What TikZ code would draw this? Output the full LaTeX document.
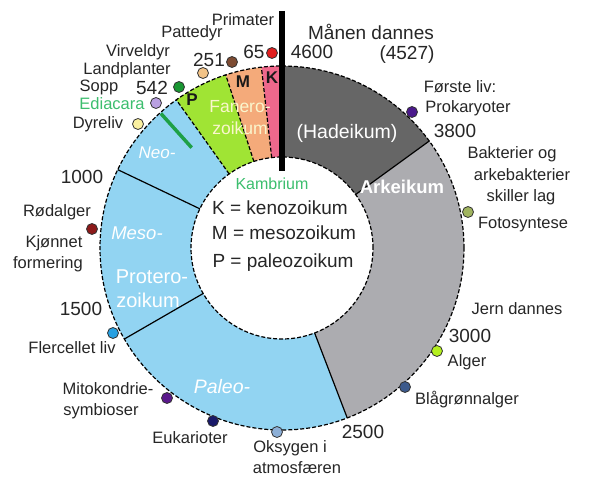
\documentclass[tikz,border=0pt]{standalone}
\usepackage{fontspec}
\setmainfont{Liberation Sans}
\definecolor{hade}{RGB}{102,102,102}
\definecolor{arke}{RGB}{172,172,176}
\definecolor{prot}{RGB}{146,212,242}
\definecolor{pal}{RGB}{160,228,52}
\definecolor{mes}{RGB}{244,170,122}
\definecolor{ken}{RGB}{238,104,140}
\definecolor{edgreen}{RGB}{30,160,70}
\definecolor{kamb}{RGB}{60,190,110}
\definecolor{fanero}{RGB}{250,246,205}
\definecolor{cRed}{RGB}{225,30,30}
\definecolor{cBrown}{RGB}{125,75,50}
\definecolor{cPeach}{RGB}{242,195,135}
\definecolor{cDgreen}{RGB}{25,150,50}
\definecolor{cLav}{RGB}{185,160,225}
\definecolor{cPyel}{RGB}{250,240,160}
\definecolor{cPurp}{RGB}{75,25,140}
\definecolor{cOlive}{RGB}{160,180,95}
\definecolor{cLime}{RGB}{180,240,30}
\definecolor{cSteel}{RGB}{60,90,140}
\definecolor{cLsteel}{RGB}{140,175,215}
\definecolor{cNavy}{RGB}{25,25,105}
\definecolor{cMito}{RGB}{90,25,140}
\definecolor{cBlue}{RGB}{40,160,225}
\definecolor{cDred}{RGB}{140,25,25}
\newcommand{\Ro}{182pt}
\newcommand{\Ri}{91pt}
\newcommand{\ringsec}[3]{%
  \fill[#1] ({90-#2}:\Ro) arc[start angle={90-#2}, end angle={90-#3}, radius=\Ro]
    -- ({90-#3}:\Ri) arc[start angle={90-#3}, end angle={90-#2}, radius=\Ri] -- cycle;}
\begin{document}
\begin{tikzpicture}[x=1pt,y=1pt,
  lab/.style={font=\fontsize{16.5}{18}\selectfont, text=black!85, inner sep=0pt},
  num/.style={font=\fontsize{19}{21}\selectfont, text=black!85, inner sep=0pt},
  ringtxt/.style={font=\fontsize{19.5}{21}\selectfont, text=white, inner sep=0pt},
  legendtxt/.style={font=\fontsize{19}{21}\selectfont, text=black!85, inner sep=0pt},
  erabox/.style={font=\fontsize{17}{19}\selectfont\bfseries, text=black!90, inner sep=0pt},
  dot/.style={circle, draw=black!80, line width=0.8pt, minimum size=11pt, inner sep=0pt},
  edge/.style={black, line width=1.2pt},
  dashedge/.style={black, line width=1.2pt, dash pattern=on 4pt off 2pt}]
\useasboundingbox (0,0) rectangle (600,482);
\fill[white] (0,0) rectangle (600,482);
\begin{scope}[shift={(282,234)}]
  \ringsec{hade}{0}{54}
  \ringsec{arke}{54}{159}
  \ringsec{prot}{159}{324.5}
  \ringsec{pal}{324.5}{342}
  \ringsec{mes}{342}{353.5}
  \ringsec{ken}{353.5}{360}
  \draw[line width=3.5pt, edgreen] (-228:181pt) -- (-228:135pt);
  \draw[edge] (36:\Ri) -- (36:\Ro);
  \draw[edge] (-69:\Ri) -- (-69:\Ro);
  \draw[edge] (-150:\Ri) -- (-150:\Ro);
  \draw[edge] (-205.5:\Ri) -- (-205.5:\Ro);
  \draw[dashedge] (-234.5:\Ri) -- (-234.5:\Ro);
  \draw[dashedge] (-252:\Ri) -- (-252:\Ro);
  \draw[dashedge] (-263.5:\Ri) -- (-263.5:\Ro);
  \draw[dashedge] (0,0) circle[radius=\Ro];
  \draw[dashedge] (0,0) circle[radius=\Ri];
\end{scope}
\coordinate (lineTop) at (282,471);
\coordinate (lineBot) at (282,311);
\draw[line width=6pt, black] (lineTop) -- (lineBot);
% ring texts
\node[ringtxt] (tHade) at (347,349) {(Hadeikum)};
\node[ringtxt, font=\fontsize{18.5}{20}\selectfont\bfseries] (tArke) at (402,295) {Arkeikum};
\node[ringtxt, font=\fontsize{17}{19}\selectfont\itshape] (tNeo) at (157,329) {Neo-};
\node[ringtxt, font=\fontsize{18.5}{20}\selectfont\itshape] (tMeso) at (137,249) {Meso-};
\node[ringtxt, font=\fontsize{20}{22}\selectfont] (tProt1) at (152,205) {Protero-};
\node[ringtxt, font=\fontsize{20}{22}\selectfont] (tProt2) at (148,182) {zoikum};
\node[ringtxt, font=\fontsize{19.5}{21}\selectfont\itshape] (tPaleo) at (222,95) {Paleo-};
\node[ringtxt, text=fanero, font=\fontsize{17.5}{19}\selectfont] (tFan1) at (240,375) {Fanero-};
\node[ringtxt, text=fanero, font=\fontsize{17.5}{19}\selectfont] (tFan2) at (240,354) {zoikum};
\node[erabox] (tP) at (192,382) {P};
\node[erabox] (tM) at (243,400) {M};
\node[erabox] (tK) at (272,404) {K};
% legend
\node[lab, text=kamb, font=\fontsize{16}{18}\selectfont] (kambrium) at (272,298) {Kambrium};
\node[legendtxt] (legK) at (280,274) {K = kenozoikum};
\node[legendtxt] (legM) at (284,249) {M = mesozoikum};
\node[legendtxt] (legP) at (283,219) {P = paleozoikum};
% dots
\node[dot, fill=cRed] (dPrim) at (272,429) {};
\node[dot, fill=cBrown] (dPatt) at (232,420) {};
\node[dot, fill=cPeach] (dVirv) at (203,409) {};
\node[dot, fill=cDgreen] (dLand) at (179,395) {};
\node[dot, fill=cLav] (dEdia) at (156,379) {};
\node[dot, fill=cPyel] (dDyre) at (138,358) {};
\node[dot, fill=cPurp] (dForste) at (412,370) {};
\node[dot, fill=cOlive] (dFoto) at (468,270) {};
\node[dot, fill=cLime] (dAlger) at (437,131) {};
\node[dot, fill=cSteel] (dBlag) at (405,95) {};
\node[dot, fill=cLsteel] (dOks) at (277,50) {};
\node[dot, fill=cNavy] (dEuk) at (213,61) {};
\node[dot, fill=cMito] (dMito) at (167,84) {};
\node[dot, fill=cBlue] (dFler) at (113,149) {};
\node[dot, fill=cDred] (dRod) at (92,253) {};
% labels
\node[lab] (lPrim) at (243,462) {Primater};
\node[lab] (lPatt) at (192,449) {Pattedyr};
\node[num] (n251) at (209,422) {251};
\node[num] (n65) at (254,430) {65};
\node[num] (n4600) at (312,430) {4600};
\node[num] (lManen) at (371,450) {Månen dannes};
\node[num] (n4527) at (407,427) {(4527)};
\node[lab] (lVirv) at (138,430) {Virveldyr};
\node[lab] (lLand) at (127,412) {Landplanter};
\node[lab] (lSopp) at (99,395) {Sopp};
\node[num] (n542) at (152,394) {542};
\node[lab, text=kamb] (lEdia) at (112,378) {Ediacara};
\node[lab] (lDyre) at (98,358) {Dyreliv};
\node[num] (n1000) at (82,305) {1000};
\node[lab] (lForste) at (460,395) {Første liv:};
\node[lab] (lProk) at (468,374) {Prokaryoter};
\node[num] (n3800) at (455,351) {3800};
\node[lab] (lBakt1) at (512,328) {Bakterier og};
\node[lab] (lBakt2) at (522,307) {arkebakterier};
\node[lab] (lBakt3) at (521,285) {skiller lag};
\node[lab] (lFoto) at (523,257) {Fotosyntese};
\node[lab] (lJern) at (517,173) {Jern dannes};
\node[num] (n3000) at (470,146) {3000};
\node[lab] (lAlger) at (467,120) {Alger};
\node[lab] (lBlag) at (467,82) {Blågrønnalger};
\node[num] (n2500) at (363,50) {2500};
\node[lab] (lOks1) at (290,34) {Oksygen i};
\node[lab] (lOks2) at (297,14) {atmosfæren};
\node[lab] (lRod) at (57,270) {Rødalger};
\node[lab] (lKjon1) at (54,239) {Kjønnet};
\node[lab] (lKjon2) at (48,218) {formering};
\node[num] (n1500) at (81,173) {1500};
\node[lab] (lFler) at (72,134) {Flercellet liv};
\node[lab] (lMito1) at (108,93) {Mitokondrie-};
\node[lab] (lMito2) at (101,71) {symbioser};
\node[lab] (lEuk) at (190,44) {Eukarioter};
\end{tikzpicture}
\end{document}
